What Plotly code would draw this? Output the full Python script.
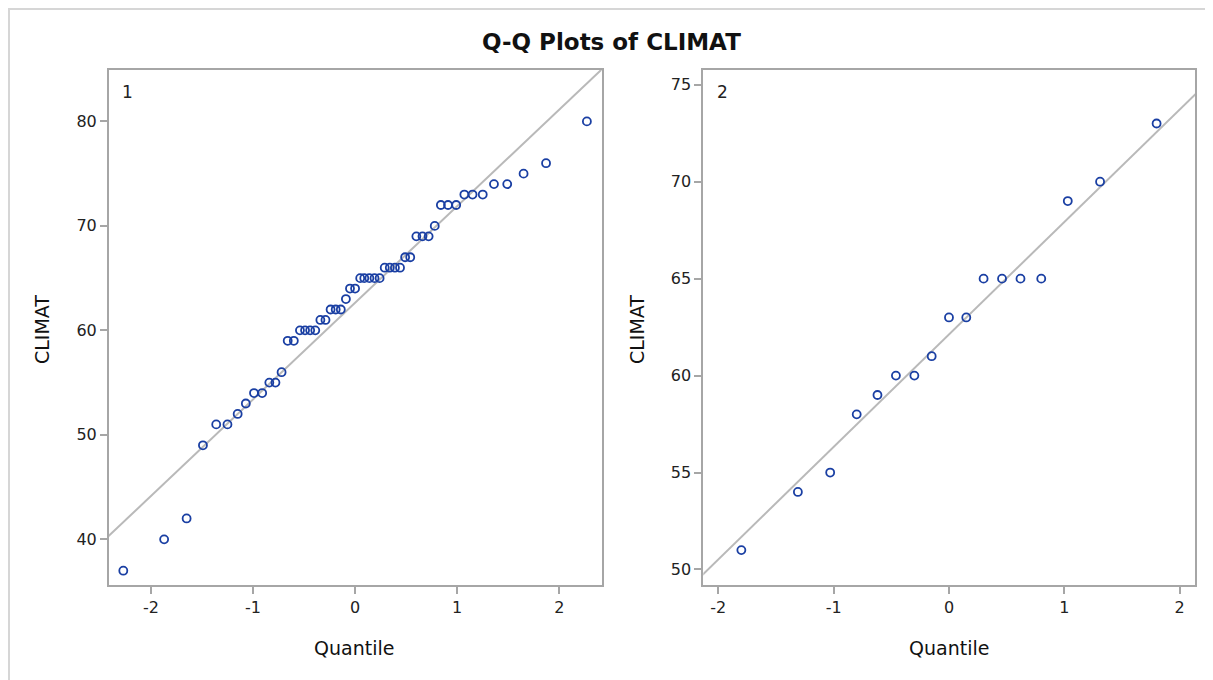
import plotly.graph_objects as go

# ---- data ----
q1 = [-2.27, -1.87, -1.65, -1.49, -1.36, -1.25, -1.15, -1.07, -0.99, -0.91,
      -0.84, -0.78, -0.72, -0.66, -0.60, -0.54, -0.49, -0.44, -0.39, -0.34,
      -0.29, -0.24, -0.19, -0.14, -0.09, -0.05, 0.00, 0.05, 0.09, 0.14,
      0.19, 0.24, 0.29, 0.34, 0.39, 0.44, 0.49, 0.54, 0.60, 0.66,
      0.72, 0.78, 0.84, 0.91, 0.99, 1.07, 1.15, 1.25, 1.36, 1.49,
      1.65, 1.87, 2.27]
climat1 = [37, 40, 42, 49, 51, 51, 52, 53, 54, 54,
           55, 55, 56, 59, 59, 60, 60, 60, 60, 61,
           61, 62, 62, 62, 63, 64, 64, 65, 65, 65,
           65, 65, 66, 66, 66, 66, 67, 67, 69, 69,
           69, 70, 72, 72, 72, 73, 73, 73, 74, 74,
           75, 76, 80]

q2 = [-1.80, -1.31, -1.03, -0.80, -0.62, -0.46, -0.30, -0.15, 0.00,
      0.15, 0.30, 0.46, 0.62, 0.80, 1.03, 1.31, 1.80]
climat2 = [51, 54, 55, 58, 59, 60, 60, 61, 63,
           63, 65, 65, 65, 65, 69, 70, 73]

# reference line (mean, std)
mu1, sigma1 = 62.64, 9.25
mu2, sigma2 = 62.12, 5.80
line_q = [-3, 3]

x_ticks = [-2, -1, 0, 1, 2]
x_ticktext = ["-2", "-1", "0", "1", "2"]
y_ticks1 = [40, 50, 60, 70, 80]
y_ticks2 = [50, 55, 60, 65, 70, 75]

# page is offset by the 8px body margin
OFF = 8
W, H = 1205, 672
FONT = "DejaVu Sans, Liberation Sans, Arial, sans-serif"
MARK = "#1a3fa3"
LINE = "#b9b9b9"
FRAME = "#a6a6a6"


def px(x):
    return (x - OFF) / W


def py(y):
    return 1 - (y - OFF) / H


fig = go.Figure()
fig.add_trace(go.Scatter(x=line_q, y=[mu1 + sigma1 * q for q in line_q], mode="lines",
                         line=dict(color=LINE, width=2), xaxis="x", yaxis="y",
                         hoverinfo="skip", showlegend=False))
fig.add_trace(go.Scatter(x=q1, y=climat1, mode="markers",
                         marker=dict(symbol="circle-open", size=8, color=MARK,
                                     line=dict(width=1.8, color=MARK)),
                         xaxis="x", yaxis="y", showlegend=False, cliponaxis=False))
fig.add_trace(go.Scatter(x=line_q, y=[mu2 + sigma2 * q for q in line_q], mode="lines",
                         line=dict(color=LINE, width=2), xaxis="x2", yaxis="y2",
                         hoverinfo="skip", showlegend=False))
fig.add_trace(go.Scatter(x=q2, y=climat2, mode="markers",
                         marker=dict(symbol="circle-open", size=8, color=MARK,
                                     line=dict(width=1.8, color=MARK)),
                         xaxis="x2", yaxis="y2", showlegend=False, cliponaxis=False))

top, bottom = 70, 585
ydom = [py(bottom), py(top)]
ax_common = dict(showline=True, mirror=True, linecolor=FRAME, linewidth=2,
                 showgrid=False, zeroline=False, ticks="outside", ticklen=7,
                 tickcolor=FRAME, tickwidth=1.5,
                 tickfont=dict(family=FONT, size=16, color="#222222"))

fig.update_layout(
    width=W, height=H,
    paper_bgcolor="white", plot_bgcolor="white",
    margin=dict(l=0, r=0, t=0, b=0, autoexpand=False),
    showlegend=False,
    xaxis=dict(domain=[px(109), px(601.7)], range=[-2.41, 2.415], tickvals=x_ticks,
               ticktext=x_ticktext, anchor="y", **ax_common),
    yaxis=dict(domain=ydom, range=[35.63, 84.92], tickvals=y_ticks1,
               anchor="x", **ax_common),
    xaxis2=dict(domain=[px(703.3), px(1195)], range=[-2.13, 2.133], tickvals=x_ticks,
                ticktext=x_ticktext, anchor="y2", **ax_common),
    yaxis2=dict(domain=ydom, range=[49.2, 75.76], tickvals=y_ticks2,
                anchor="x2", **ax_common),
)

ann = []
ann.append(dict(text="<b>Q-Q Plots of CLIMAT</b>", x=px(611), y=py(42), xref="paper", yref="paper",
                showarrow=False, font=dict(family=FONT, size=23, color="#111111"),
                xanchor="center", yanchor="middle"))
for cx, lab in [(354, "Quantile"), (949, "Quantile")]:
    ann.append(dict(text=lab, x=px(cx), y=py(648), xref="paper", yref="paper",
                    showarrow=False, font=dict(family=FONT, size=19, color="#111111"),
                    xanchor="center", yanchor="middle"))
for cx in [42, 637]:
    ann.append(dict(text="CLIMAT", x=px(cx), y=py(330), xref="paper", yref="paper",
                    showarrow=False, textangle=-90,
                    font=dict(family=FONT, size=19, color="#111111"),
                    xanchor="center", yanchor="middle"))
for cx, lab in [(127, "1"), (722, "2")]:
    ann.append(dict(text=lab, x=px(cx), y=py(92), xref="paper", yref="paper",
                    showarrow=False, font=dict(family=FONT, size=17, color="#222222"),
                    xanchor="center", yanchor="middle"))
fig.update_layout(annotations=ann)

# outer light frame (top and left edges)
fig.add_shape(type="line", xref="paper", yref="paper", x0=0, x1=1, y0=py(9), y1=py(9),
              line=dict(color="#d6d6d6", width=2))
fig.add_shape(type="line", xref="paper", yref="paper", x0=px(9), x1=px(9), y0=py(9), y1=0,
              line=dict(color="#d6d6d6", width=2))

fig.write_html("out.html")
